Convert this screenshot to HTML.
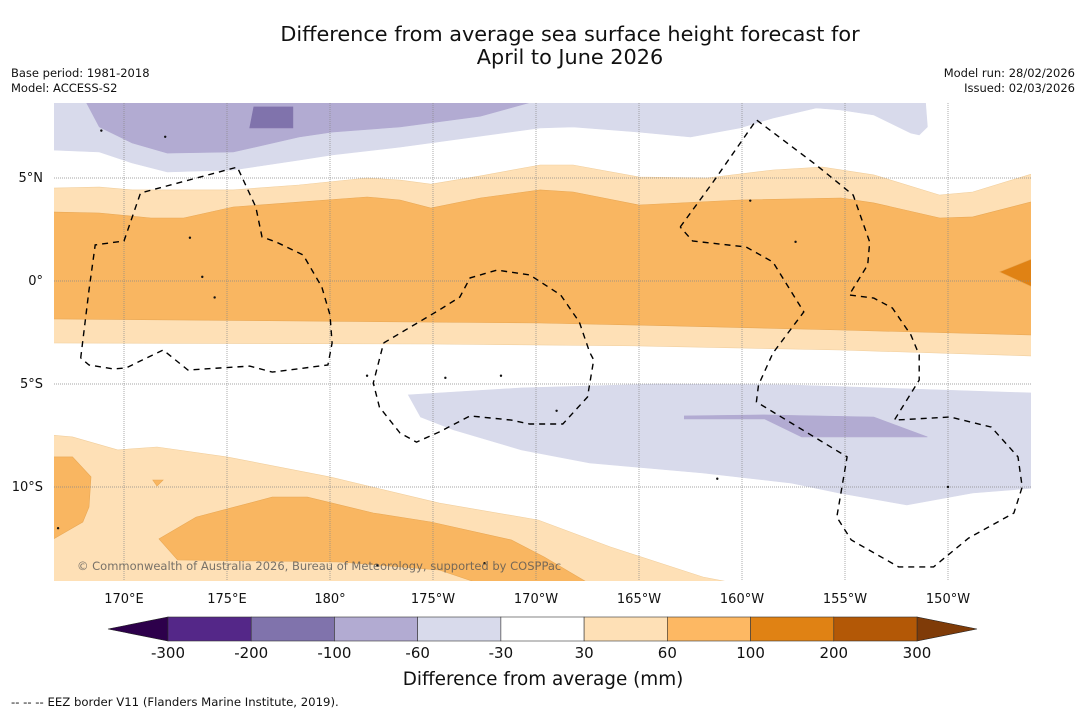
<!DOCTYPE html>
<html><head><meta charset="utf-8">
<style>
body{margin:0;background:#fff;width:1085px;height:713px;overflow:hidden;font-family:"DejaVu Sans","Liberation Sans",sans-serif;}
svg{position:absolute;left:0;top:0}
</style></head>
<body>
<svg id="c" width="1085" height="713" viewBox="0 0 1085 713">
<text x="570" y="41" text-anchor="middle" font-size="20.8" fill="#111">Difference from average sea surface height forecast for</text>
<text x="570" y="64" text-anchor="middle" font-size="20.8" fill="#111">April to June 2026</text>
<text x="11" y="77" font-size="11.5" fill="#111">Base period: 1981-2018</text>
<text x="11" y="92" font-size="11.5" fill="#111">Model: ACCESS-S2</text>
<text x="1075" y="77" text-anchor="end" font-size="11.5" fill="#111">Model run: 28/02/2026</text>
<text x="1075" y="92" text-anchor="end" font-size="11.5" fill="#111">Issued: 02/03/2026</text>
<defs><clipPath id="mapclip"><rect x="54" y="103" width="977" height="478"/></clipPath></defs>
<g id="map" clip-path="url(#mapclip)"></g>
<g id="axes"></g>
<g id="cbar"></g>
<text x="543" y="685" text-anchor="middle" font-size="18.4" fill="#111">Difference from average (mm)</text>
<text x="11" y="706" font-size="11.7" fill="#111">--  --  -- EEZ border V11 (Flanders Marine Institute, 2019).</text>
</svg>
<script>
// contour polygons [lon(0-360), lat]
const topLightPurple=[[166.5,8.8],[208.9,8.8],[209.0,7.48],[208.6,7.09],[208.2,7.18],[206.4,8.06],[204.8,8.3],[203.6,8.4],[201.5,7.91],[199.9,7.43],[197.5,6.99],[195.0,7.23],[191.8,7.48],[190.2,7.43],[183.4,6.5],[180.1,6.12],[178.5,5.87],[175.3,5.39],[172.1,5.29],[170.4,5.73],[168.8,6.26],[166.5,6.36]];
const topMidPurple=[[168.1,8.8],[190.2,8.8],[187.3,8.0],[183.4,7.48],[180.1,7.23],[178.5,6.99],[175.3,6.26],[172.1,6.21],[170.4,6.70],[168.8,7.48]];
const topDarkPurple=[[176.3,8.45],[178.2,8.45],[178.2,7.43],[176.1,7.43]];
const eqLightOrange=[[166.5,4.51],[168.8,4.56],[170.4,4.42],[175.3,4.42],[178.5,4.66],[181.8,5.0],[183.4,4.9],[184.9,4.7],[187.3,5.1],[190.2,5.63],[191.8,5.63],[195.0,5.05],[198.3,5.0],[201.5,5.39],[203.9,5.53],[206.4,5.15],[209.6,4.17],[211.2,4.32],[214.2,5.24],[214.2,-3.64],[204.8,-3.35],[195,-3.15],[184.9,-3.06],[166.5,-3.01]];
const eqOrange=[[166.5,3.35],[168.8,3.30],[171.3,3.06],[172.9,3.06],[175.3,3.59],[178.5,3.83],[181.8,4.08],[183.4,3.93],[184.9,3.54],[187.3,4.03],[190.2,4.42],[191.8,4.32],[195.0,3.69],[199.9,3.93],[204.8,4.03],[206.4,3.79],[209.6,3.06],[211.2,3.11],[214.2,3.88],[214.2,-2.62],[204.8,-2.38],[195,-2.14],[190.2,-2.04],[166.5,-1.84]];
const eqDarkOrange=[[212.5,0.44],[214.2,1.12],[214.2,-0.34]];
const southPurple=[[183.8,-5.53],[189.3,-5.19],[195.9,-5.0],[202.4,-5.05],[214.2,-5.44],[214.2,-10.05],[211.2,-10.29],[208.0,-10.87],[204.7,-10.29],[202.4,-9.81],[198.1,-9.32],[192.6,-8.83],[189.3,-8.2],[186.0,-7.23],[184.4,-6.6]];
const southMidPurple=[[197.2,-6.55],[201.1,-6.5],[206.4,-6.6],[209.0,-7.57],[202.9,-7.57],[201.1,-6.7],[197.2,-6.7]];
const swLightOrange=[[166.5,-7.48],[167.5,-7.57],[169.7,-8.2],[171.6,-8.06],[175.0,-8.54],[180.0,-9.51],[185.3,-10.78],[190.1,-11.6],[193.6,-12.91],[198.1,-14.37],[199.8,-14.7],[166.5,-14.7]];
const swOrange=[[171.7,-12.52],[173.5,-11.46],[177.2,-10.49],[178.9,-10.49],[182.1,-11.26],[184.9,-11.7],[188.8,-12.57],[190.4,-13.4],[192.6,-14.7],[187.3,-14.7],[185.3,-14.03],[180.5,-13.64],[172.6,-13.54]];
const swOrangeBlob=[[166.5,-8.54],[167.5,-8.54],[168.4,-9.51],[168.3,-10.97],[168.0,-11.7],[166.5,-12.57]];
const swOrangeSpeck=[[171.4,-9.66],[171.9,-9.66],[171.6,-9.95]];
// EEZ borders
const eezA=[[167.9,-3.74],[168.3,-0.44],[168.6,1.75],[170.0,1.94],[170.8,4.27],[175.5,5.53],[176.4,3.59],[176.7,2.14],[177.4,1.89],[178.7,1.26],[179.6,-0.29],[180.0,-1.65],[180.1,-3.01],[179.9,-4.08],[177.2,-4.42],[176.1,-4.13],[173.1,-4.32],[171.9,-3.35],[170.1,-4.22],[169.5,-4.27],[168.3,-4.08],[167.9,-3.74]];
const eezB=[[182.6,-3.01],[185.3,-1.41],[186.3,-0.78],[186.8,0.15],[188.1,0.53],[189.7,0.29],[191.2,-0.68],[192.1,-1.99],[192.6,-3.45],[192.8,-3.83],[192.5,-5.63],[191.3,-6.94],[189.7,-6.94],[188.8,-6.75],[186.8,-6.55],[185.3,-7.33],[184.2,-7.82],[183.4,-7.38],[182.4,-6.12],[182.1,-4.95],[182.6,-3.01]];
const eezC=[[197.0,2.62],[198.6,4.81],[200.7,7.82],[203.6,5.63],[205.4,4.17],[206.2,1.89],[206.1,0.78],[205.2,-0.68],[206.4,-0.83],[207.3,-1.31],[208.2,-2.62],[208.6,-3.59],[208.6,-4.81],[207.7,-6.26],[207.4,-6.75],[210.1,-6.6],[212.1,-7.09],[213.4,-8.54],[213.6,-10.0],[213.2,-11.26],[211.0,-12.48],[209.3,-13.88],[207.6,-13.88],[205.3,-12.57],[204.6,-11.46],[205.1,-8.54],[200.7,-5.87],[200.8,-5.05],[201.5,-3.5],[203.0,-1.5],[201.5,0.92],[200.2,1.65],[197.6,1.94],[197.0,2.62]];
const islands=[[168.9,7.3],[172.0,7.0],[173.2,2.1],[173.8,0.2],[174.4,-0.8],[181.8,-4.6],[185.6,-4.7],[188.3,-4.6],[191.0,-6.3],[200.4,3.9],[202.6,1.9],[198.8,-9.6],[210.0,-10.0],[182.3,-13.8],[187.5,-13.7],[166.8,-12.0]];
const lonTicks=[170,175,180,185,190,195,200,205,210];
const lonLabels=["170°E","175°E","180°","175°W","170°W","165°W","160°W","155°W","150°W"];
const latTicks=[5,0,-5,-10];
const latLabels=["5°N","0°","5°S","10°S"];
const cbBounds=[-300,-200,-100,-60,-30,30,60,100,200,300];
const cbColors=["#542788","#8073ac","#b2abd2","#d8daeb","#ffffff","#fee0b6","#fdb863","#e08214","#b35806"];

const NS="http://www.w3.org/2000/svg";
const X=lon=>124+(lon-170)*20.6;
const Y=lat=>281-lat*20.6;
function mk(tag,attrs,parent){const e=document.createElementNS(NS,tag);for(const k in attrs)e.setAttribute(k,attrs[k]);parent.appendChild(e);return e;}
const pts=a=>a.map(p=>X(p[0]).toFixed(1)+","+Y(p[1]).toFixed(1)).join(" ");
const map=document.getElementById('map');
const layers=[[topLightPurple,"#d8daeb","contour-neg60-top"],[topMidPurple,"#b2abd2","contour-neg100-top"],[topDarkPurple,"#8073ac","contour-neg200-top"],[eqLightOrange,"#fee0b6","contour-30-equator"],[eqOrange,"#f9b661","contour-60-equator"],[eqDarkOrange,"#e08214","contour-100-equator"],[southPurple,"#d8daeb","contour-neg60-south"],[southMidPurple,"#b2abd2","contour-neg100-south"],[swLightOrange,"#fee0b6","contour-30-southwest"],[swOrange,"#f9b661","contour-60-southwest"],[swOrangeBlob,"#f9b661","contour-60-blob"],[swOrangeSpeck,"#f9b661","contour-60-speck"]];
layers.forEach(L=>{
  const p=mk('polygon',{points:pts(L[0]),fill:L[1],stroke:L[1]==="#fee0b6"?"#f1cf9e":"#e9a855","stroke-width":"0.6"},map);
  if(L[1].indexOf("#d8")===0||L[1].indexOf("#b2")===0||L[1].indexOf("#80")===0)p.setAttribute('stroke',L[1]);
  
  
});
// grid
lonTicks.forEach(l=>{const g=mk('line',{x1:X(l),x2:X(l),y1:103,y2:581,stroke:"#888","stroke-width":"0.7","stroke-dasharray":"1,1"},map);

});
latTicks.forEach(l=>{const g=mk('line',{x1:54,x2:1031,y1:Y(l),y2:Y(l),stroke:"#888","stroke-width":"0.7","stroke-dasharray":"1,1"},map);

});
islands.forEach(p=>{const c=mk('circle',{cx:X(p[0]),cy:Y(p[1]),r:1.2,fill:"#111"},map);

});
[[eezA,"eez-border-kiribati-gilbert"],[eezB,"eez-border-phoenix"],[eezC,"eez-border-line-islands"]].forEach(E=>{
  const p=mk('polyline',{points:pts(E[0]),fill:"none",stroke:"#000","stroke-width":"1.4","stroke-dasharray":"6,5"},map);
  
  
});
const cr=mk('text',{x:77,y:570,"font-size":"11.5",fill:"#555","fill-opacity":"0.8"},map);
cr.textContent="© Commonwealth of Australia 2026, Bureau of Meteorology, supported by COSPPac";


// axis labels
const axes=document.getElementById('axes');
lonTicks.forEach((l,i)=>{const t=mk('text',{x:X(l),y:603,"text-anchor":"middle","font-size":"13",fill:"#111"},axes);t.textContent=lonLabels[i];

});
latTicks.forEach((l,i)=>{const t=mk('text',{x:43,y:Y(l)+4,"text-anchor":"end","font-size":"13",fill:"#111"},axes);t.textContent=latLabels[i];

});
// colorbar
const cb=document.getElementById('cbar');
const cx0=168,cx1=917,cy0=617,cy1=641,bw=(cx1-cx0)/cbColors.length;
const lt=mk('polygon',{points:`108,629 ${cx0},${cy0} ${cx0},${cy1}`,fill:"#2d004b",stroke:"#222","stroke-width":"0.6"},cb);


const rt=mk('polygon',{points:`977,629 ${cx1},${cy0} ${cx1},${cy1}`,fill:"#7f3b08",stroke:"#222","stroke-width":"0.6"},cb);


cbColors.forEach((c,i)=>{const r=mk('rect',{x:cx0+i*bw,y:cy0,width:bw,height:cy1-cy0,fill:c,stroke:"#333","stroke-width":"0.6"},cb);

});
cbBounds.forEach((b,i)=>{const t=mk('text',{x:cx0+i*bw,y:658,"text-anchor":"middle","font-size":"15",fill:"#111"},cb);t.textContent=b;

});
</script>
</body></html>
